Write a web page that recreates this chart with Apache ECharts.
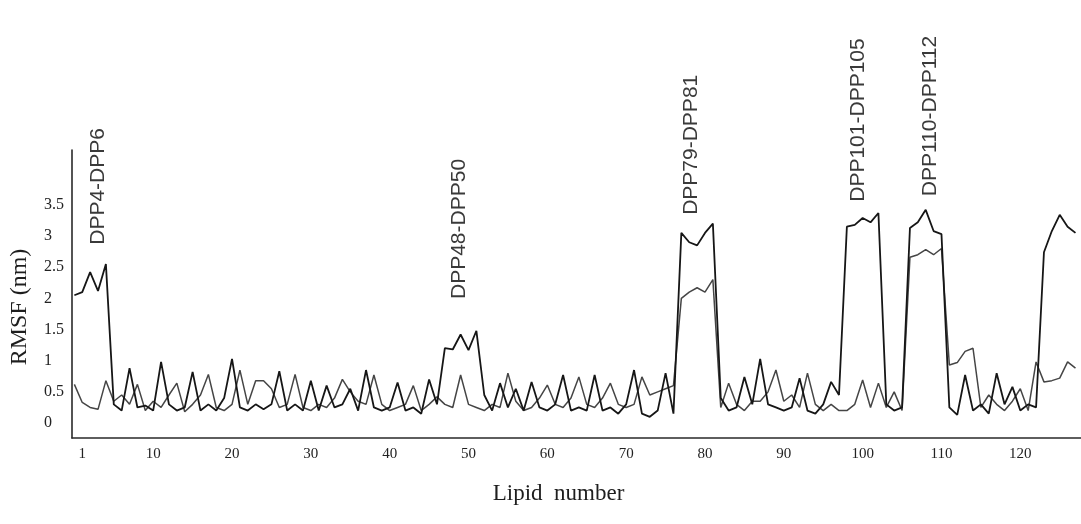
<!DOCTYPE html>
<html>
<head>
<meta charset="utf-8">
<script src="https://cdn.jsdelivr.net/npm/echarts@6/dist/echarts.min.js"></script>
<style>
  html, body { margin: 0; padding: 0; background: #fff; }
  #chart { width: 1081px; height: 524px; }
</style>
</head>
<body>
<div id="chart"></div>
<script>
// RMSF per lipid, two traces (lipid index 0..127)
const lipids = Array.from({ length: 128 }, (_, i) => i);

const rmsfDark = [
  2.05, 2.10, 2.42, 2.12, 2.55, 0.30, 0.20, 0.88, 0.25, 0.28,
  0.20, 0.98, 0.30, 0.20, 0.25, 0.82, 0.20, 0.30, 0.20, 0.40,
  1.03, 0.25, 0.20, 0.30, 0.22, 0.30, 0.83, 0.20, 0.30, 0.20,
  0.68, 0.20, 0.60, 0.25, 0.30, 0.55, 0.20, 0.85, 0.25, 0.20,
  0.25, 0.65, 0.20, 0.25, 0.15, 0.70, 0.30, 1.20, 1.18, 1.42,
  1.17, 1.48, 0.45, 0.20, 0.64, 0.25, 0.55, 0.20, 0.66, 0.25,
  0.20, 0.30, 0.77, 0.20, 0.25, 0.20, 0.77, 0.20, 0.25, 0.15,
  0.30, 0.85, 0.15, 0.10, 0.20, 0.80, 0.15, 3.05, 2.90, 2.85,
  3.05, 3.20, 0.40, 0.20, 0.25, 0.74, 0.30, 1.03, 0.30, 0.25,
  0.20, 0.25, 0.72, 0.20, 0.15, 0.30, 0.66, 0.45, 3.15, 3.18,
  3.29, 3.22, 3.37, 0.30, 0.20, 0.25, 3.13, 3.22, 3.42, 3.08,
  3.03, 0.25, 0.13, 0.77, 0.20, 0.30, 0.15, 0.80, 0.30, 0.58,
  0.20, 0.30, 0.25, 2.74, 3.08, 3.34, 3.15, 3.05
];

const rmsfGray = [
  0.62, 0.33, 0.25, 0.22, 0.68, 0.35, 0.45, 0.30, 0.62, 0.20,
  0.35, 0.25, 0.45, 0.64, 0.18, 0.30, 0.45, 0.78, 0.25, 0.20,
  0.30, 0.85, 0.30, 0.68, 0.68, 0.55, 0.25, 0.30, 0.78, 0.25,
  0.20, 0.30, 0.25, 0.40, 0.70, 0.50, 0.35, 0.30, 0.77, 0.30,
  0.20, 0.25, 0.30, 0.60, 0.20, 0.30, 0.42, 0.30, 0.25, 0.77,
  0.30, 0.25, 0.20, 0.30, 0.25, 0.80, 0.35, 0.20, 0.25, 0.40,
  0.61, 0.30, 0.25, 0.40, 0.74, 0.30, 0.25, 0.40, 0.64, 0.30,
  0.25, 0.30, 0.74, 0.45, 0.50, 0.55, 0.60, 2.00, 2.10, 2.17,
  2.10, 2.30, 0.25, 0.64, 0.30, 0.20, 0.35, 0.35, 0.50, 0.85,
  0.35, 0.45, 0.25, 0.80, 0.30, 0.20, 0.30, 0.20, 0.20, 0.30,
  0.69, 0.25, 0.64, 0.25, 0.50, 0.20, 2.66, 2.70, 2.78, 2.70,
  2.80, 0.93, 0.97, 1.15, 1.20, 0.25, 0.45, 0.30, 0.20, 0.35,
  0.55, 0.20, 0.98, 0.66, 0.68, 0.72, 0.98, 0.88
];

const xTickValues = [1, 10, 20, 30, 40, 50, 60, 70, 80, 90, 100, 110, 120];
const yTickValues = [0, 0.5, 1, 1.5, 2, 2.5, 3, 3.5];

// rotated labels above the high-RMSF groups (anchor = lower end of the text)
const groupNames = ["DPP4-DPP6", "DPP48-DPP50", "DPP79-DPP81", "DPP101-DPP105", "DPP110-DPP112"];
const groupLipid = [3.0, 48.8, 78.3, 99.4, 108.6];
const groupRmsf = [2.86, 1.99, 3.34, 3.55, 3.64];

const pairs = (ys) => lipids.map((x, i) => [x, ys[i]]);

const chart = echarts.init(document.getElementById("chart"), null, { renderer: "canvas" });

const serif = "'Liberation Serif', 'Times New Roman', serif";

chart.setOption({
  animation: false,
  backgroundColor: "#ffffff",
  grid: { left: 70, right: 0, top: 150, bottom: 86, containLabel: false },
  xAxis: {
    type: "value",
    min: -0.3,
    max: 127.7,
    name: "Lipid  number",
    nameLocation: "middle",
    nameGap: 44,
    nameTextStyle: { fontFamily: serif, fontSize: 23, color: "#1e1e1e", padding: [0, 36, 0, 0] },
    axisLine: { show: true, onZero: false, lineStyle: { color: "#2a2a2a", width: 1.6 } },
    axisTick: { show: false },
    splitLine: { show: false },
    axisLabel: {
      customValues: xTickValues,
      margin: 9,
      fontFamily: serif,
      fontSize: 15,
      color: "#222"
    }
  },
  yAxis: {
    type: "value",
    min: -0.24,
    max: 4.38,
    name: "RMSF (nm)",
    nameLocation: "middle",
    nameGap: 40,
    nameTextStyle: { fontFamily: serif, fontSize: 24, color: "#1e1e1e", padding: [0, 26, 0, 0] },
    axisLine: { show: true, onZero: false, lineStyle: { color: "#2a2a2a", width: 1.6 } },
    axisTick: { show: false },
    splitLine: { show: false },
    axisLabel: {
      customValues: yTickValues,
      align: "left",
      margin: 28,
      fontFamily: serif,
      fontSize: 16,
      color: "#222"
    }
  },
  series: [
    {
      name: "gray",
      type: "line",
      data: pairs(rmsfGray),
      showSymbol: false,
      smooth: false,
      lineStyle: { color: "#454545", width: 1.5 },
      z: 2
    },
    {
      name: "dark",
      type: "line",
      data: pairs(rmsfDark),
      showSymbol: false,
      smooth: false,
      lineStyle: { color: "#161616", width: 1.8 },
      z: 3,
      markPoint: {
        symbol: "circle",
        symbolSize: 0,
        silent: true,
        itemStyle: { color: "transparent" },
        label: {
          show: true,
          position: [0, 0],
          rotate: 90,
          align: "left",
          verticalAlign: "middle",
          formatter: "{b}",
          fontFamily: "'Liberation Sans', Arial, sans-serif",
          fontSize: 21,
          color: "#3a3a3a"
        },
        data: groupNames.map((n, i) => ({ name: n, coord: [groupLipid[i], groupRmsf[i]] }))
      }
    }
  ]
});
</script>
</body>
</html>
